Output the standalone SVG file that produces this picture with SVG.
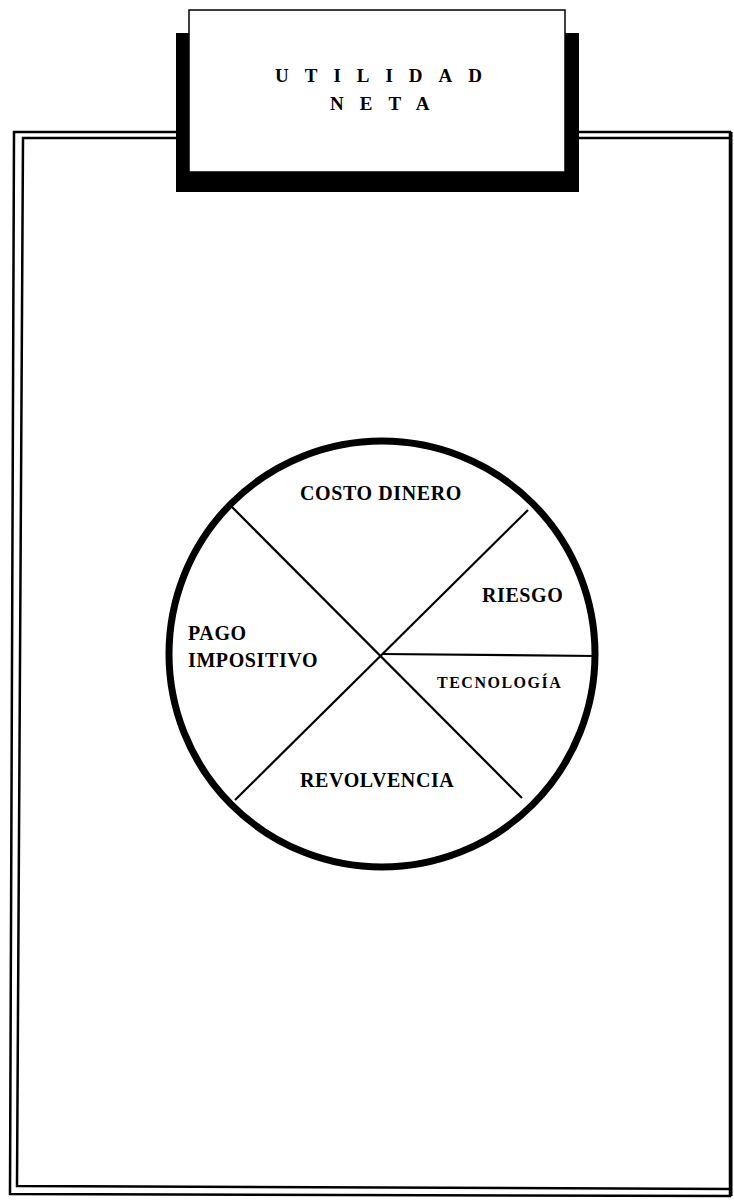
<svg xmlns="http://www.w3.org/2000/svg" width="734" height="1200" viewBox="0 0 734 1200">
<style>
.frame{fill:none;stroke:#000;stroke-width:2.5}
.div{fill:none;stroke:#000;stroke-width:2.2}
.lbl{font-family:"Liberation Serif","Times New Roman",serif;font-weight:bold;font-size:20px;letter-spacing:0.6px;fill:#000}
.sm{font-size:16px;letter-spacing:1.5px}
.ttl{font-family:"Liberation Serif","Times New Roman",serif;font-weight:bold;font-size:19px;letter-spacing:16px;fill:#000}
</style>
<rect width="734" height="1200" fill="#fff"/>
<g id="frame">
<path class="frame" d="M14,132 L730,132 L730,1196 L10,1194 Z"/>
<path class="frame" d="M730,138 L23,138 L17,1186 L730,1189"/>
<line x1="731" y1="132" x2="731" y2="1196" stroke="#000" stroke-width="3"/>
</g>
<g id="title">
<rect x="176" y="33" width="403" height="159" fill="#000"/>
<rect x="189" y="10" width="376" height="162" fill="#fff" stroke="#000" stroke-width="1.5"/>
<text class="ttl" x="275" y="82">UTILIDAD</text>
<text class="ttl" x="330" y="110">NETA</text>
</g>
<g id="connectors">
<line class="div" x1="230" y1="505" x2="522" y2="798"/>
<line class="div" x1="528" y1="510" x2="235" y2="800"/>
<line class="div" x1="382" y1="654" x2="596" y2="656"/>
</g>
<g id="wheel">
<circle cx="382" cy="654" r="213" fill="none" stroke="#000" stroke-width="7"/>
</g>
<g id="costo"><text class="lbl" x="300" y="500">COSTO DINERO</text></g>
<g id="riesgo"><text class="lbl" x="482" y="602">RIESGO</text></g>
<g id="pago"><text class="lbl" x="188" y="640">PAGO</text><text class="lbl" x="188" y="667">IMPOSITIVO</text></g>
<g id="tecnologia"><text class="lbl sm" x="437" y="688">TECNOLOGÍA</text></g>
<g id="revolvencia"><text class="lbl" x="300" y="787">REVOLVENCIA</text></g>
</svg>
